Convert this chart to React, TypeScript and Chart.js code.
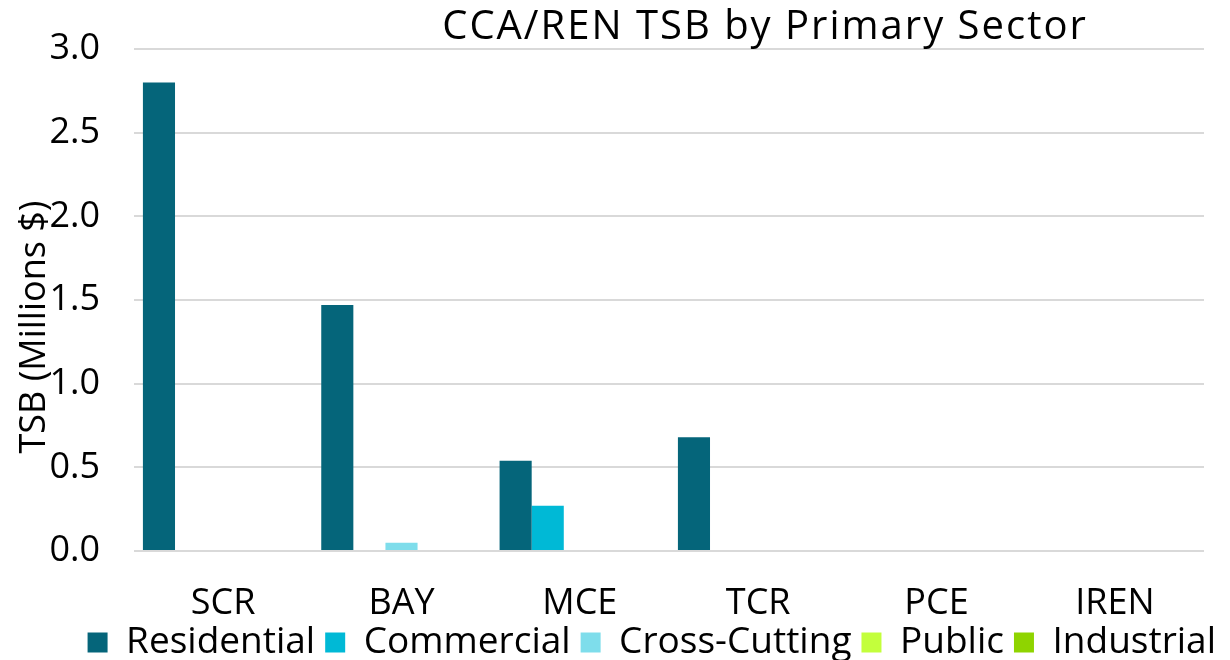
import React, { useEffect, useRef } from "react";
import { Chart, registerables } from "chart.js";

Chart.register(...registerables);

const categories = ["SCR", "BAY", "MCE", "TCR", "PCE", "IREN"];
const residential = [2.8, 1.47, 0.54, 0.68, 0, 0];
const commercial = [0, 0, 0.27, 0, 0, 0];
const crossCutting = [0, 0.05, 0, 0, 0, 0];
const publicSector = [0, 0, 0, 0, 0, 0];
const industrial = [0, 0, 0, 0, 0, 0];
const seriesNames = ["Residential", "Commercial", "Cross-Cutting", "Public", "Industrial"];
const seriesColors = ["#05657A", "#00B9D6", "#7EDDEB", "#C3FF3C", "#8FD400"];
const yMin = 0;
const yMax = 3;
const yStep = 0.5;
const chartTitle = "CCA/REN TSB by Primary Sector";
const yAxisTitle = "TSB (Millions $)";

const FONT = "'Open Sans', Lato, sans-serif";

const overlayText = {
  id: "overlayText",
  afterDraw(chart: any) {
    const ctx = chart.ctx as CanvasRenderingContext2D;
    ctx.save();
    ctx.fillStyle = "#000";
    ctx.textAlign = "center";
    ctx.textBaseline = "alphabetic";
    ctx.font = `40px ${FONT}`;
    (ctx as any).letterSpacing = "2px";
    ctx.fillText(chartTitle, 765, 39);
    (ctx as any).letterSpacing = "0px";
    ctx.translate(45, 327);
    ctx.rotate(-Math.PI / 2);
    ctx.font = `36px ${FONT}`;
    ctx.fillText(yAxisTitle, 0, 0);
    ctx.restore();
  },
};

export default function App() {
  const ref = useRef<HTMLCanvasElement | null>(null);
  useEffect(() => {
    document.body.style.margin = "0";
    const values = [residential, commercial, crossCutting, publicSector, industrial];
    const chart = new Chart(ref.current as HTMLCanvasElement, {
      type: "bar",
      data: {
        labels: categories,
        datasets: seriesNames.map((name, i) => ({
          label: name,
          data: values[i],
          backgroundColor: seriesColors[i],
          borderWidth: 0,
          categoryPercentage: 0.9,
          barPercentage: 1.0,
          yAxisID: "y",
        })),
      },
      options: {
        animation: false,
        responsive: false,
        maintainAspectRatio: false,
        layout: { padding: { top: 49, right: 4, left: 8, bottom: -11 } },
        plugins: {
          title: { display: false },
          tooltip: { enabled: false },
          legend: {
            position: "bottom",
            align: "end",
            labels: {
              font: { family: FONT, size: 37 },
              color: "#000",
              boxWidth: 20,
              boxHeight: 20,
              padding: 10,
            },
          },
        },
        scales: {
          x: {
            grid: { display: false, drawTicks: false },
            border: { display: false },
            ticks: { font: { family: FONT, size: 36 }, color: "#000", padding: 31 },
            afterFit: (s: any) => {
              s.height = 63;
            },
          },
          y: {
            min: yMin,
            max: yMax,
            grid: { color: "#D9D9D9", lineWidth: 2, drawTicks: false },
            border: { display: false },
            ticks: {
              stepSize: yStep,
              font: { family: FONT, size: 36, lineHeight: 0.4 },
              color: "#000",
              padding: 34,
              callback: (v: any) => Number(v).toFixed(1),
            },
            afterFit: (s: any) => {
              s.width = 126;
            },
          },
          yRight: {
            position: "right",
            display: true,
            grid: { display: false, drawTicks: false },
            border: { display: false },
            ticks: { display: false },
            afterFit: (s: any) => {
              s.width = 22;
            },
          },
        },
      },
      plugins: [overlayText],
    });
    return () => chart.destroy();
  }, []);
  return <canvas ref={ref} width={1230} height={660} style={{ display: "block" }} />;
}
